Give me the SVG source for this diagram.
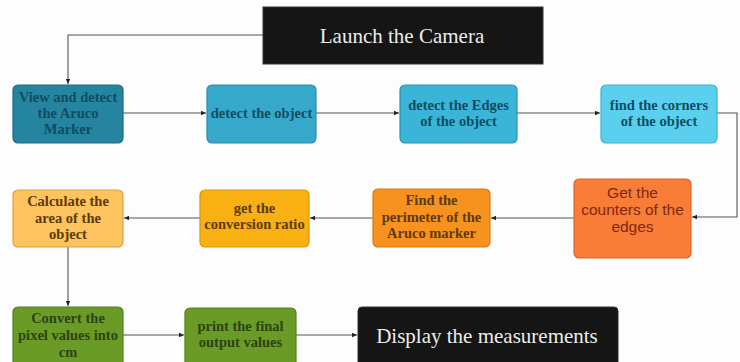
<svg xmlns="http://www.w3.org/2000/svg" width="740" height="362" viewBox="0 0 740 362">
  <defs>
    <marker id="arr" markerWidth="6" markerHeight="6" refX="5" refY="3" orient="auto" markerUnits="userSpaceOnUse">
      <path d="M0,0.8 L5,3 L0,5.2 Z" fill="#222"/>
    </marker>
  </defs>
  <style>
    .box { stroke-width: 1.2; }
    .t { font-family: "Liberation Serif", "Times New Roman", serif; font-size: 14.5px; font-weight: bold; text-anchor: middle; }
    .s { font-family: "Liberation Sans", Arial, sans-serif; font-size: 15.5px; text-anchor: middle; }
    .blue { fill: #0f4c62; }
    .amber { fill: #5c3a08; }
    .green { fill: #2c4410; }
    .red { fill: #7a2a10; }
    .dark { fill: #151515; stroke: #333; }
    .w { fill: #ececec; font-family: "Liberation Serif", "Times New Roman", serif; font-size: 21px; text-anchor: middle; }
    .conn { fill: none; stroke: #555; stroke-width: 1.1; marker-end: url(#arr); }
  </style>
  <rect width="740" height="362" fill="#fdfdfd"/>

  <g id="connectors">
    <path class="conn" d="M263,35 H68 V84"/>
    <path class="conn" d="M123,113 H206"/>
    <path class="conn" d="M316,113 H399"/>
    <path class="conn" d="M517,113 H600"/>
    <path class="conn" d="M717,113 H737 V217 H692"/>
    <path class="conn" d="M574,218 H491"/>
    <path class="conn" d="M373,218 H310"/>
    <path class="conn" d="M200,218 H124"/>
    <path class="conn" d="M68,247 V306"/>
    <path class="conn" d="M123,335 H184"/>
    <path class="conn" d="M296,335 H357"/>
  </g>

  <g id="launch">
    <rect class="dark" x="263" y="7" width="280" height="57"/>
    <text class="w" x="402" y="43">Launch the Camera</text>
  </g>

  <g id="view-marker">
    <rect class="box" x="13" y="85" width="110" height="58" rx="5" fill="#2585a0" stroke="#1a6a82"/>
    <text class="t blue" x="68" y="102">View and detect</text>
    <text class="t blue" x="68" y="118">the Aruco</text>
    <text class="t blue" x="68" y="134">Marker</text>
  </g>

  <g id="detect-object">
    <rect class="box" x="207" y="85" width="109" height="58" rx="5" fill="#36a9cb" stroke="#2a8cab"/>
    <text class="t blue" x="261.5" y="118">detect the object</text>
  </g>

  <g id="detect-edges">
    <rect class="box" x="400" y="85" width="117" height="58" rx="5" fill="#3ab5d8" stroke="#2a93b3"/>
    <text class="t blue" x="458.5" y="110">detect the Edges</text>
    <text class="t blue" x="458.5" y="126">of the object</text>
  </g>

  <g id="find-corners">
    <rect class="box" x="601" y="85" width="116" height="58" rx="5" fill="#5bd0ee" stroke="#3fb1cf"/>
    <text class="t blue" x="659" y="110">find the corners</text>
    <text class="t blue" x="659" y="126">of the object</text>
  </g>

  <g id="get-counters">
    <rect class="box" x="574" y="179" width="117" height="79" rx="5" fill="#f97c37" stroke="#d9662a"/>
    <text class="s red" x="632.5" y="198">Get the</text>
    <text class="s red" x="632.5" y="215">counters of the</text>
    <text class="s red" x="632.5" y="232">edges</text>
  </g>

  <g id="find-perimeter">
    <rect class="box" x="373" y="189" width="117" height="58" rx="5" fill="#f8921f" stroke="#d57914"/>
    <text class="t amber" x="431.5" y="205">Find the</text>
    <text class="t amber" x="431.5" y="221.5">perimeter of the</text>
    <text class="t amber" x="431.5" y="238">Aruco marker</text>
  </g>

  <g id="conversion-ratio">
    <rect class="box" x="200" y="190" width="109" height="57" rx="5" fill="#f9b012" stroke="#d6960e"/>
    <text class="t amber" x="254.5" y="213">get the</text>
    <text class="t amber" x="254.5" y="229">conversion ratio</text>
  </g>

  <g id="calculate-area">
    <rect class="box" x="13" y="190" width="110" height="57" rx="5" fill="#fcc35f" stroke="#d9a24a"/>
    <text class="t amber" x="68" y="206">Calculate the</text>
    <text class="t amber" x="68" y="222.5">area of the</text>
    <text class="t amber" x="68" y="239">object</text>
  </g>

  <g id="convert-pixels">
    <rect class="box" x="13" y="307" width="110" height="62" rx="5" fill="#6a9b27" stroke="#55801d"/>
    <text class="t green" x="68" y="323">Convert the</text>
    <text class="t green" x="68" y="340" font-size="15.5">pixel values into</text>
    <text class="t green" x="68" y="357">cm</text>
  </g>

  <g id="print-output">
    <rect class="box" x="185" y="308" width="111" height="60" rx="5" fill="#6a9b27" stroke="#55801d"/>
    <text class="t green" x="240.5" y="331">print the final</text>
    <text class="t green" x="240.5" y="347">output values</text>
  </g>

  <g id="display">
    <rect class="dark" x="358" y="307" width="260" height="62" rx="4"/>
    <text class="w" x="487" y="343">Display the measurements</text>
  </g>
</svg>
